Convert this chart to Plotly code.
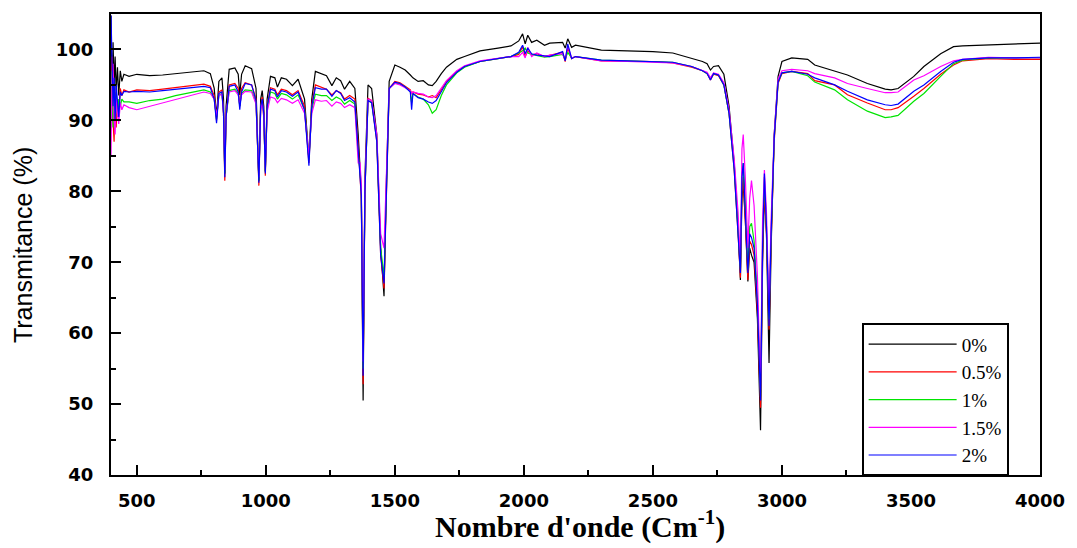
import plotly.graph_objects as go

# Wavenumber grid (cm-1) and transmittance (%)
wavenumber = [400, 404, 408, 412, 416, 420, 425, 430, 436, 442, 450, 470, 500, 550, 600, 650, 700, 760, 785,
              800, 809, 818, 830, 836, 841, 846, 858, 880, 893, 899, 906, 920, 945, 962, 973, 980, 986, 992,
              998, 1005, 1018, 1035, 1045, 1060, 1080, 1103, 1125, 1150, 1167, 1178, 1192, 1215, 1235, 1256,
              1273, 1290, 1305, 1325, 1345, 1358, 1365, 1370, 1377, 1384, 1396, 1410, 1430, 1445, 1458, 1466,
              1478, 1500, 1520, 1540, 1560, 1565, 1570, 1590, 1610, 1630, 1645, 1660, 1680, 1700, 1740, 1770,
              1830, 1900, 1950, 1980, 1995, 2005, 2015, 2030, 2050, 2080, 2100, 2150, 2160, 2170, 2185, 2200,
              2300, 2400, 2500, 2577, 2650, 2692, 2710, 2723, 2735, 2754, 2775, 2795, 2815, 2830, 2839, 2845,
              2850, 2858, 2868, 2875, 2882, 2892, 2905, 2917, 2925, 2932, 2940, 2950, 2958, 2970, 2985, 3000,
              3038, 3100, 3127, 3204, 3254, 3331, 3400, 3423, 3450, 3511, 3550, 3615, 3665, 3700, 3800, 3900, 4000]

t_0 = [104.8, 92, 101, 95, 99, 94, 97.5, 93.5, 97, 95.5, 96.5, 96.2, 96.5, 96.3, 96.4, 96.6, 96.8, 97.0, 96.6,
       94.5, 90.5, 95.5, 96.0, 93, 82.5, 92, 97.2, 97.4, 96.5, 93.6, 96.5, 97.7, 97.3, 94.5, 81.5, 93, 94.2, 92,
       82.8, 93, 96.2, 96.0, 94.7, 96.0, 95.8, 94.9, 95.8, 93, 84.5, 93, 96.9, 96.6, 96.3, 94.9,
       96.0, 95.6, 94.4, 95.5, 94.5, 88, 82.5, 80, 50.5, 82, 95.0, 94.5, 88, 72, 65.2, 80,
       95.5, 97.8, 97.5, 97.1, 96.4, 96.1, 96.0, 95.5, 95.6, 95.0, 94.9, 95.5, 96.6, 97.5, 98.6, 99.0,
       99.8, 100.2, 100.5, 101.2, 102.2, 100.8, 102.0, 101.0, 101.3, 100.6, 100.9, 101.0, 100.2, 101.5, 100.3, 100.6,
       99.9, 99.8, 99.7, 99.5, 98.8, 98.3, 98.0, 97.1, 97.6, 97.7, 96.5, 92, 84, 75, 67.5, 79,
       81, 76, 67.3, 72, 71, 70, 62, 46.3, 70, 80, 74, 55.8, 72, 88, 96.2, 98.3,
       98.8, 98.6, 97.8, 97.0, 96.4, 95.2, 94.4, 94.3, 94.5, 96.2, 97.6, 99.4, 100.4, 100.5, 100.6, 100.8, 100.9]

t_05 = [95, 99, 90, 87, 94, 89, 93, 91, 94.5, 93.5, 94.3, 94.0, 94.3, 94.2, 94.4, 94.6, 94.8, 95.1, 94.8,
        93.5, 90.0, 94.0, 94.3, 91, 81.5, 90.5, 95.0, 95.2, 94.5, 92.0, 94.5, 95.3, 95.0, 93.0, 80.8, 92, 93.3, 91,
        82.2, 92, 94.6, 94.4, 93.6, 94.4, 94.2, 93.6, 94.2, 92, 84.0, 92.2, 95.0, 94.7, 94.4, 93.6,
        94.2, 93.9, 93.0, 93.5, 93, 86.5, 82.5, 79, 52.8, 80, 93.1, 92.8, 87, 71, 66.3, 78,
        94.5, 95.5, 95.3, 94.8, 94.3, 93.8, 94.0, 93.7, 93.6, 93.3, 93.5, 93.2, 94.3, 95.5, 96.9, 97.6,
        98.3, 98.7, 99.0, 99.3, 100.4, 99.0, 99.8, 99.2, 99.4, 99.0, 99.2, 99.6, 98.3, 100.2, 98.7, 99.0,
        98.4, 98.4, 98.3, 98.1, 97.5, 97.0, 96.6, 95.7, 96.5, 96.3, 95, 91, 83, 74, 67.8, 80,
        82, 76, 67.5, 73, 72.5, 71, 63, 49.5, 71, 80.5, 74, 60.5, 73, 87, 95.2, 96.6,
        96.9, 96.6, 95.6, 95.0, 93.6, 92.45, 91.5, 91.5, 91.8, 93.4, 94.5, 96.5, 97.8, 98.4, 98.7, 98.6, 98.6]

t_1 = [97, 93, 89, 95, 91, 94, 90.5, 93, 92, 93, 92.6, 92.6, 92.4, 92.8, 93.0, 93.5, 93.9, 94.3, 94.0,
       93.0, 90.2, 93.5, 93.8, 91, 82.5, 90.5, 94.2, 94.4, 93.8, 92.0, 93.8, 94.3, 94.2, 92.5, 81.5, 91.8, 92.8, 90.5,
       82.8, 91.5, 94.0, 93.8, 93.0, 93.8, 93.6, 93.0, 93.6, 91.5, 84.5, 91.5, 93.7, 93.5, 93.5, 92.8,
       93.3, 93.0, 92.3, 92.8, 92.3, 85, 83, 80, 55, 80, 92.8, 92.5, 87.5, 72, 68, 79,
       94.5, 95.3, 95.1, 94.7, 94.1, 92.5, 93.8, 93.3, 93.0, 92.2, 91.0, 91.5, 93.5, 95.0, 96.7, 97.5,
       98.3, 98.7, 99.0, 99.5, 99.8, 100.2, 99.5, 99.3, 99.1, 98.9, 99.0, 99.3, 98.6, 99.6, 98.8, 99.0,
       98.5, 98.4, 98.3, 98.2, 97.6, 97.0, 96.6, 95.9, 96.6, 96.4, 95, 91, 83.5, 75, 69, 82,
       84, 78, 69, 75, 75.5, 73, 65, 51, 73, 82, 75, 62, 74, 87.5, 95.4, 96.7,
       96.9, 96.3, 95.4, 94.3, 92.9, 91.3, 90.4, 90.5, 90.7, 92.7, 93.8, 96.2, 98.0, 98.5, 98.8, 98.8, 98.8]

t_15 = [85, 96, 98, 90, 88, 93, 91, 89.5, 92.5, 91.5, 92.2, 91.8, 91.5, 92.0, 92.4, 93.0, 93.5, 94.0, 93.8,
        93.0, 90.5, 93.5, 93.7, 91, 83, 91, 94.0, 94.2, 93.6, 92.2, 93.6, 94.1, 94.0, 92.3, 82, 91.5, 92.4, 90.5,
        83.2, 91.2, 93.3, 93.1, 92.5, 93.1, 92.9, 92.4, 92.9, 91, 85, 91, 92.9, 92.7, 92.8, 92.0,
        92.6, 92.4, 91.8, 92.2, 91.8, 84, 84, 81, 56, 81, 93.0, 92.8, 88, 74, 72, 80,
        94.5, 95.2, 95.0, 94.6, 94.2, 93.8, 94.0, 93.8, 93.7, 93.3, 93.2, 93.5, 94.5, 95.6, 97.0, 97.7,
        98.4, 98.8, 99.0, 99.0, 99.6, 98.8, 100.3, 99.0, 99.5, 99.0, 99.2, 99.4, 98.5, 100.5, 98.8, 99.0,
        98.4, 98.3, 98.2, 98.1, 97.6, 97.1, 96.8, 96.0, 96.7, 96.5, 95.3, 91.5, 84.5, 77, 70, 86,
        88, 82, 72, 79, 81.5, 78, 68, 52, 76, 83, 77, 63, 76, 88, 95.8, 97.0,
        97.2, 97.0, 96.6, 96.0, 95.2, 94.5, 93.9, 93.9, 94.0, 95.7, 96.3, 97.6, 98.4, 98.6, 98.9, 98.8, 98.8]

t_2 = [104.8, 99, 92, 96, 90, 95, 93, 90.5, 94, 93.5, 94.1, 94.0, 94.1, 94.0, 94.2, 94.4, 94.6, 94.8, 94.6,
       93.0, 89.6, 93.8, 94.0, 91, 82, 90.5, 94.8, 95.0, 94.0, 91.5, 94.0, 95.2, 95.0, 92.8, 81.2, 92, 93, 91,
       82.5, 92, 94.4, 94.2, 93.3, 94.2, 94.0, 93.4, 94.0, 91.5, 83.6, 92, 94.6, 94.4, 94.4, 93.4,
       94.2, 93.8, 92.8, 93.2, 92.6, 85.5, 82.5, 79.5, 54, 80, 92.8, 92.5, 87, 71, 67, 78,
       94.5, 95.4, 95.2, 94.7, 94.0, 91.5, 93.8, 93.2, 93.0, 92.6, 92.4, 92.8, 94.0, 95.3, 96.8, 97.6,
       98.3, 98.7, 99.0, 99.6, 100.6, 99.4, 100.2, 99.4, 99.2, 99.1, 99.0, 99.7, 98.4, 100.8, 98.7, 99.0,
       98.5, 98.4, 98.3, 98.2, 97.6, 97.0, 96.6, 95.7, 96.6, 96.4, 95, 91, 83, 74, 68.5, 82,
       84, 77, 68.5, 74, 73.5, 72, 64, 50.5, 72, 82.5, 75, 61, 74, 87.5, 95.4, 96.7,
       96.9, 96.5, 96.0, 95.0, 94.1, 92.9, 92.2, 92.1, 92.3, 94.1, 95.0, 96.9, 98.2, 98.6, 98.8, 98.8, 98.9]

labels = ["0%", "0.5%", "1%", "1.5%", "2%"]
colors = ["#000000", "#ff0000", "#00e400", "#ff00ff", "#0000ff"]
series = [t_0, t_05, t_1, t_15, t_2]

fig = go.Figure()
for name, vals, col in zip(labels, series, colors):
    fig.add_trace(go.Scatter(x=wavenumber, y=vals, mode="lines", name=name,
                             line=dict(color=col, width=1.2)))

tickfont = dict(family="DejaVu Sans, Arial, sans-serif", size=18, color="black", weight="bold")

fig.update_layout(
    width=1077, height=548,
    margin=dict(l=111, r=31, t=13, b=73),
    paper_bgcolor="white", plot_bgcolor="white",
    showlegend=True,
    legend=dict(x=0.808, y=0.329, xanchor="left", yanchor="top",
                bordercolor="black", borderwidth=2, bgcolor="white",
                font=dict(family="Liberation Serif, Times New Roman, serif", size=19, color="black"),
                itemwidth=88, tracegroupgap=0),
    annotations=[
        dict(text="Nombre d'onde (Cm<sup>-1</sup>)", xref="paper", yref="paper",
             x=0.505, y=-0.154, xanchor="center", yanchor="bottom", showarrow=False,
             font=dict(family="Liberation Serif, Times New Roman, serif", size=30, color="black", weight="bold")),
        dict(text="Transmitance (%)", xref="paper", yref="paper",
             x=-0.094, y=0.498, xanchor="center", yanchor="middle", showarrow=False, textangle=-90,
             font=dict(family="Liberation Sans Narrow, Arial Narrow, Liberation Sans, sans-serif", size=25, color="black")),
    ],
)

fig.update_xaxes(range=[400, 4000], tick0=500, dtick=500, ticks="inside", ticklen=10, tickwidth=2,
                 tickcolor="black", showline=True, linewidth=2, linecolor="black", mirror=True,
                 showgrid=False, zeroline=False, tickfont=tickfont, ticklabelstandoff=8,
                 minor=dict(ticks="inside", ticklen=5, tickwidth=2, tickcolor="black", dtick=250, showgrid=False))
fig.update_yaxes(range=[40, 105], tick0=40, dtick=10, ticks="inside", ticklen=10, tickwidth=2,
                 tickcolor="black", showline=True, linewidth=2, linecolor="black", mirror=True,
                 showgrid=False, zeroline=False, tickfont=tickfont, ticklabelstandoff=12,
                 minor=dict(ticks="inside", ticklen=5, tickwidth=2, tickcolor="black", dtick=5, showgrid=False))

fig.write_html("out.html")
